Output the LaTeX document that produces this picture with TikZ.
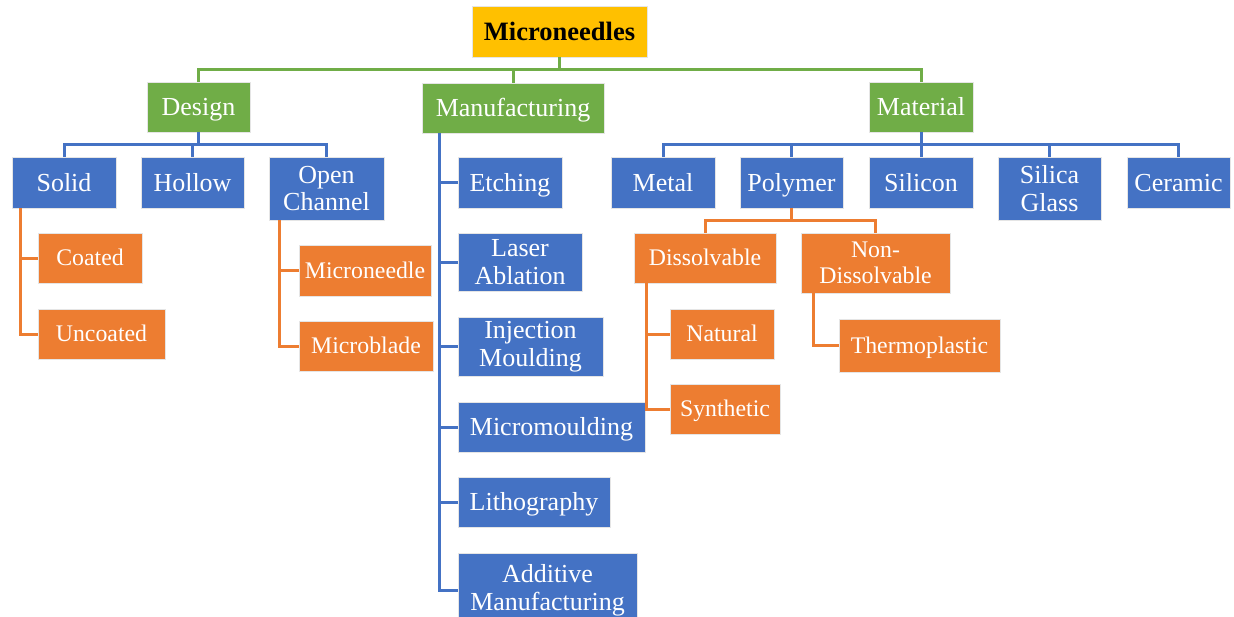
\documentclass[tikz,border=0pt]{standalone}
\usepackage{fontspec}
\setmainfont{Liberation Serif}
\definecolor{cgreen}{HTML}{70AD47}
\definecolor{cblue}{HTML}{4472C4}
\definecolor{corange}{HTML}{ED7D31}
\definecolor{cyellow}{HTML}{FFC000}
\tikzset{
  boxbase/.style={draw=white!90!black, line width=0.8pt, text=white, inner sep=0pt, align=center, font=\fontsize{26}{27.5}\selectfont, text height=17.2pt, text depth=0pt},
  gbox/.style={boxbase, fill=cgreen},
  bbox/.style={boxbase, fill=cblue},
  obox/.style={boxbase, fill=corange, font=\fontsize{23.8}{26}\selectfont, text height=15.7pt},
  ybox/.style={boxbase, fill=cyellow, text=black, font=\fontsize{26.5}{28}\selectfont\bfseries, text height=17.6pt},
  ml/.style={text height=, text depth=},
  gline/.style={draw=cgreen, line width=3pt},
  bline/.style={draw=cblue, line width=3pt},
  oline/.style={draw=corange, line width=3pt},
}
\newcommand\bx[7]{\node[#1, minimum width={(#5-#3)*1pt}, minimum height={(#6-#4)*1pt}] (#2) at ({(#3+#5)/2},{(#4+#6)/2}) {#7};}
\begin{document}
\begin{tikzpicture}[x=1pt,y=-1pt]
\useasboundingbox (0,0) rectangle (1234,616);
% root and level 1
\bx{ybox}{root}{472}{6}{647}{57}{Microneedles}
\bx{gbox}{design}{147}{82}{250}{132}{Design}
\bx{gbox}{manuf}{422}{83}{604}{133}{Manufacturing}
\bx{gbox}{material}{869}{82}{973}{132}{Material}
% design children
\bx{bbox}{solid}{12}{157}{116}{208}{Solid}
\bx{bbox}{hollow}{141}{157}{244}{208}{Hollow}
\bx{bbox,ml}{open}{269}{157}{384}{220}{Open\\Channel}
\bx{obox}{coated}{38}{233}{142}{283}{Coated}
\bx{obox}{uncoated}{38}{309}{165}{359}{Uncoated}
\bx{obox}{mneedle}{299}{245}{431}{296}{Microneedle}
\bx{obox}{mblade}{299}{321}{433}{371}{Microblade}
% manufacturing children
\bx{bbox}{etch}{458}{157}{562}{208}{Etching}
\bx{bbox,ml}{laser}{458}{233}{582}{291}{Laser\\Ablation}
\bx{bbox,ml}{inject}{458}{317}{603}{376}{Injection\\Moulding}
\bx{bbox}{micromould}{458}{402}{645}{452}{Micromoulding}
\bx{bbox}{litho}{458}{477}{610}{527}{Lithography}
\bx{bbox,ml}{additive}{458}{553}{637}{628}{Additive\\Manufacturing}
% material children
\bx{bbox}{metal}{611}{157}{715}{208}{Metal}
\bx{bbox}{polymer}{740}{157}{843}{208}{Polymer}
\bx{bbox}{silicon}{869}{157}{973}{208}{Silicon}
\bx{bbox,ml}{silica}{998}{157}{1101}{220}{Silica\\Glass}
\bx{bbox}{ceramic}{1127}{157}{1230}{208}{Ceramic}
% polymer children
\bx{obox}{dissolv}{634}{233}{776}{283}{Dissolvable}
\bx{obox,ml}{nondiss}{801}{233}{950}{293}{Non-\\Dissolvable}
\bx{obox}{natural}{670}{309}{774}{359}{Natural}
\bx{obox}{synthetic}{670}{384}{780}{434}{Synthetic}
\bx{obox}{thermo}{839}{319}{1000}{372}{Thermoplastic}
% green connectors
\draw[gline] (root.south) -- ++(0,12) coordinate (rj) -| (design.north);
\draw[gline] (rj) -| (material.north);
\draw[gline] (rj) -| (manuf.north);
% design connectors
\draw[bline] (design.south) -- ++(0,12) coordinate (dj) -| (solid.north);
\draw[bline] (dj) -| (hollow.north);
\draw[bline] (dj) -| (open.north);
% material connectors
\draw[bline] (material.south) -- ++(0,12) coordinate (mj) -| (metal.north);
\draw[bline] (mj) -| (polymer.north);
\draw[bline] (mj) -| (silicon.north);
\draw[bline] (mj) -| (silica.north);
\draw[bline] (mj) -| (ceramic.north);
% manufacturing bus
\draw[bline] ([xshift=18]manuf.south west) |- (additive.west);
\foreach \n in {etch,laser,inject,micromould,litho}
  \draw[bline] ([xshift=18]manuf.south west) |- (\n.west);
% solid bus
\draw[oline] ([xshift=9]solid.south west) |- (uncoated.west);
\draw[oline] ([xshift=9]solid.south west) |- (coated.west);
% open channel bus
\draw[oline] ([xshift=11]open.south west) |- (mblade.west);
\draw[oline] ([xshift=11]open.south west) |- (mneedle.west);
% polymer connectors
\draw[oline] (polymer.south) -- ++(0,12) coordinate (pj) -| (dissolv.north);
\draw[oline] (pj) -| (nondiss.north);
% dissolvable bus
\draw[oline] ([xshift=13]dissolv.south west) |- (synthetic.west);
\draw[oline] ([xshift=13]dissolv.south west) |- (natural.west);
% non-dissolvable
\draw[oline] ([xshift=13]nondiss.south west) |- (thermo.west);
\end{tikzpicture}
\end{document}
